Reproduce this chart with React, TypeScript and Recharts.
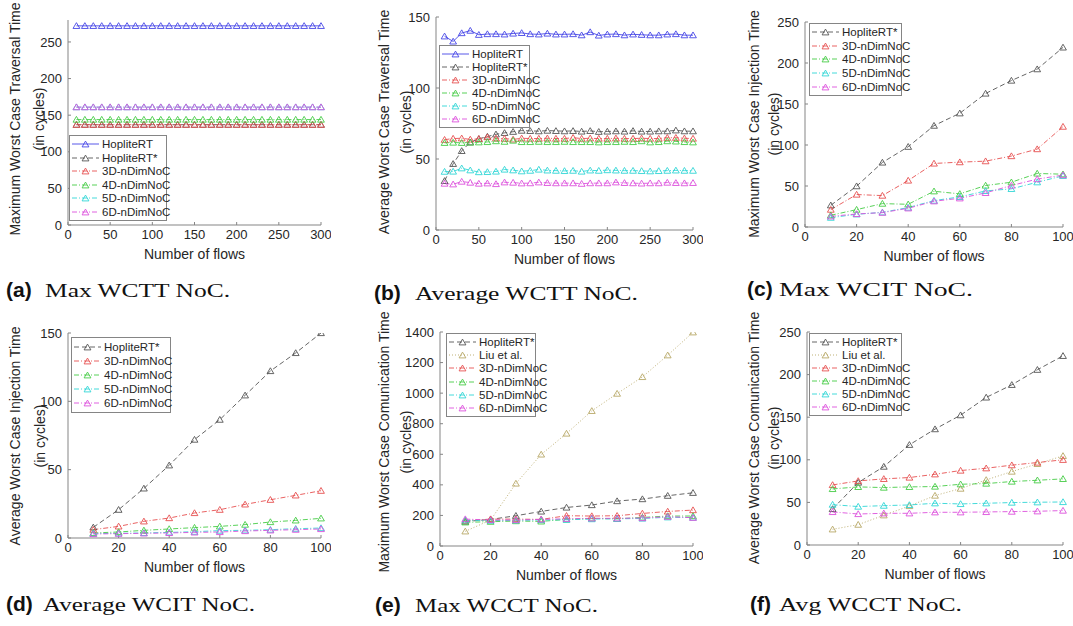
import React from 'react';
import { LineChart, Line, XAxis, YAxis, Legend } from 'recharts';

// x values (number of flows)
const FLOWS_300 = [10, 20, 30, 40, 50, 60, 70, 80, 90, 100, 110, 120, 130, 140, 150, 160, 170, 180, 190, 200, 210, 220, 230, 240, 250, 260, 270, 280, 290, 300];
const FLOWS_100 = [10, 20, 30, 40, 50, 60, 70, 80, 90, 100];
const X_TICKS_300 = [0, 50, 100, 150, 200, 250, 300];
const X_TICKS_100 = [0, 20, 40, 60, 80, 100];

// (a) Max WCTT
const A_HOPLITE = [272, 272, 272, 272, 272, 272, 272, 272, 272, 272, 272, 272, 272, 272, 272, 272, 272, 272, 272, 272, 272, 272, 272, 272, 272, 272, 272, 272, 272, 272];
const A_HOPLITE_STAR = [137, 137, 137, 137, 137, 137, 137, 137, 137, 137, 137, 137, 137, 137, 137, 137, 137, 137, 137, 137, 137, 137, 137, 137, 137, 137, 137, 137, 137, 137];
const A_3D = [137, 137, 137, 137, 137, 137, 137, 137, 137, 137, 137, 137, 137, 137, 137, 137, 137, 137, 137, 137, 137, 137, 137, 137, 137, 137, 137, 137, 137, 137];
const A_4D = [144, 144, 144, 144, 144, 144, 144, 144, 144, 144, 144, 144, 144, 144, 144, 144, 144, 144, 144, 144, 144, 144, 144, 144, 144, 144, 144, 144, 144, 144];
const A_5D = [161, 161, 161, 161, 161, 161, 161, 161, 161, 161, 161, 161, 161, 161, 161, 161, 161, 161, 161, 161, 161, 161, 161, 161, 161, 161, 161, 161, 161, 161];
const A_6D = [161, 161, 161, 161, 161, 161, 161, 161, 161, 161, 161, 161, 161, 161, 161, 161, 161, 161, 161, 161, 161, 161, 161, 161, 161, 161, 161, 161, 161, 161];

// (b) Average WCTT
const B_HOPLITE = [136.4, 132.8, 138.7, 140.4, 137.5, 138.0, 138.0, 137.8, 138.4, 138.8, 138.0, 137.8, 138.4, 137.8, 137.8, 138.0, 137.2, 139.4, 137.0, 137.8, 138.0, 137.2, 137.8, 137.5, 137.2, 137.2, 137.8, 138.0, 137.2, 137.2];
const B_HOPLITE_STAR = [34.6, 46.6, 55.7, 61.8, 64.2, 65.8, 67.4, 68.4, 69.2, 70.0, 69.8, 69.6, 70.0, 69.8, 69.6, 69.8, 69.4, 69.8, 69.2, 69.4, 69.6, 69.4, 69.8, 69.4, 69.4, 69.6, 69.6, 70.2, 69.6, 69.6];
const B_3D = [63.6, 64.4, 64.6, 63.8, 64.2, 65.4, 64.6, 64.4, 63.8, 64.6, 64.4, 64.4, 64.6, 64.4, 64.4, 65.0, 64.4, 64.6, 64.4, 64.4, 64.6, 64.4, 64.4, 64.6, 64.4, 64.4, 65.0, 65.0, 64.6, 64.4];
const B_4D = [61.4, 61.6, 61.4, 61.6, 61.8, 62.0, 62.6, 62.2, 63.0, 62.0, 62.0, 62.2, 62.0, 62.0, 62.2, 62.0, 62.0, 62.0, 61.8, 62.0, 62.0, 62.2, 62.0, 62.6, 61.8, 62.0, 62.6, 62.4, 62.0, 61.8];
const B_5D = [41.1, 41.2, 43.5, 42.1, 40.8, 40.9, 41.2, 42.6, 42.1, 41.4, 41.8, 42.6, 42.0, 41.8, 41.6, 41.8, 41.2, 42.0, 41.8, 42.2, 42.0, 41.8, 41.8, 41.6, 41.4, 41.6, 41.8, 42.0, 41.8, 41.8];
const B_6D = [32.7, 32.2, 34.1, 33.4, 32.7, 32.9, 32.4, 33.6, 33.4, 32.9, 33.0, 33.6, 33.2, 33.0, 33.0, 33.0, 32.6, 33.0, 33.0, 33.0, 33.6, 33.2, 33.0, 32.8, 33.0, 33.0, 33.4, 33.2, 33.0, 33.2];

// (c) Max WCIT
const C_HOPLITE_STAR = [26.5, 49.8, 78.7, 97.9, 123.6, 138.7, 162.8, 178.6, 192.5, 219];
const C_3D = [21.2, 39.6, 38.3, 56.7, 77.5, 79.1, 80.3, 86.5, 95, 122.4];
const C_4D = [14.3, 21.2, 28.5, 27.7, 43.6, 40.4, 50.6, 54.6, 65.3, 64.4];
const C_5D = [11.4, 15.5, 17.9, 23.7, 32.2, 36.7, 44, 46.5, 54.6, 62.4];
const C_6D = [13, 15.9, 17.5, 22.8, 31.4, 35, 41.6, 50.6, 58.4, 63.3];

// (d) Average WCIT
const D_HOPLITE_STAR = [7.8, 20.7, 36.3, 53.2, 72, 86.6, 104.4, 122.2, 135.4, 150];
const D_3D = [6.1, 8.5, 12.2, 14.6, 18.3, 20.7, 24.6, 28, 31.2, 34.6];
const D_4D = [3.7, 4.4, 5.6, 6.6, 7.6, 8.5, 9.8, 11.7, 12.9, 14.4];
const D_5D = [3.2, 3.4, 3.7, 4.1, 4.6, 5.4, 5.6, 6.1, 6.8, 7.3];
const D_6D = [2.9, 3.2, 3.4, 3.7, 4.1, 4.4, 5.1, 5.6, 6.1, 6.6];

// (e) Max WCCT
const E_HOPLITE_STAR = [160, 174, 198, 226, 252, 268, 294, 307, 329, 348];
const E_LIU = [96, 170, 409, 599, 736, 884, 997, 1106, 1248, 1398];
const E_3D = [165, 176, 176, 174, 198, 196, 198, 213, 226, 235];
const E_4D = [155, 159, 163, 161, 174, 181, 178, 187, 196, 196];
const E_5D = [168, 166, 168, 170, 172, 176, 178, 180, 188, 186];
const E_6D = [176, 170, 170, 174, 178, 181, 181, 183, 192, 185];

// (f) Avg WCCT
const F_HOPLITE_STAR = [42.3, 73.3, 92, 117.6, 136, 152.4, 173.2, 188, 205.7, 222];
const F_LIU = [18.4, 23.9, 34.9, 45.8, 58, 66.2, 76.4, 86.2, 95.2, 104.6];
const F_3D = [70.5, 75.2, 77.6, 79.2, 83, 87.4, 90.1, 93.7, 96.8, 100];
const F_4D = [65.8, 68.2, 67.4, 68.2, 68.6, 71.3, 72.1, 74.5, 76, 77.6];
const F_5D = [47.4, 45.1, 46.2, 47, 49, 48.2, 49, 49.8, 50.2, 50.5];
const F_6D = [38.8, 36.4, 37.2, 37.2, 38.4, 38.4, 38.8, 39.2, 39.6, 40.4];

const FONT = '"Liberation Sans", Arial, sans-serif';
const SERIF = '"Liberation Serif", "Times New Roman", serif';
const AXIS = '#858585';
const TXT = '#262626';

const STYLES: Record<string, { name: string; color: string; dash?: string }> = {
  hop: { name: 'HopliteRT', color: '#4646e6' },
  hopStar: { name: 'HopliteRT*', color: '#555555', dash: '5 3' },
  liu: { name: 'Liu et al.', color: '#b8a868', dash: '1 2' },
  d3: { name: '3D-nDimNoC', color: '#e65050', dash: '5 2 1 2' },
  d4: { name: '4D-nDimNoC', color: '#46cc46', dash: '5 2 1 2' },
  d5: { name: '5D-nDimNoC', color: '#30d6d6', dash: '5 2 1 2' },
  d6: { name: '6D-nDimNoC', color: '#dc50dc', dash: '5 2 1 2' },
};

type Series = { key: string; values: number[] };
type Box = { x: number; y: number; w: number; h: number };
type PanelDef = {
  flows: number[];
  series: Series[];
  plot: Box;
  xMax: number;
  xTicks: number[];
  yMax: number;
  yTicks: number[];
  yLabel: string;
  labelX: [number, number];
  labelCY: number;
  legend: Box;
  tag: string;
  text: string;
  tagX: number;
  textX: number;
  textEnd: number;
  baseline: number;
};

const tri = (cx: number, cy: number) =>
  `M${cx},${cy - 3.2} L${cx + 3.4},${cy + 2.6} L${cx - 3.4},${cy + 2.6} Z`;

const makeDot = (color: string) => (p: any) => {
  if (p.cx == null || p.cy == null) return <g key={`e${p.index}`} />;
  return <path key={`t${p.index}`} d={tri(p.cx, p.cy)} fill="none" stroke={color} strokeWidth={0.9} />;
};

const PAD_L = 50;
const PAD_T = 10;
const PAD_R = 10;
const PAD_B = 30;

function LegendBox({ series, box }: { series: Series[]; box: Box }) {
  return (
    <div
      style={{
        width: box.w,
        height: box.h,
        boxSizing: 'border-box',
        border: `1px solid ${AXIS}`,
        background: '#fff',
        display: 'flex',
        flexDirection: 'column',
        justifyContent: 'space-evenly',
        padding: '1px 0',
      }}
    >
      {series.map((s) => {
        const st = STYLES[s.key];
        return (
          <div key={s.key} style={{ display: 'flex', alignItems: 'center', height: 13 }}>
            <svg width={31} height={12} style={{ flexShrink: 0 }}>
              <line x1={2} x2={29} y1={6} y2={6} stroke={st.color} strokeWidth={0.9} strokeDasharray={st.dash} />
              <path d={tri(15.5, 6.3)} fill="none" stroke={st.color} strokeWidth={0.9} />
            </svg>
            <span style={{ fontFamily: FONT, fontSize: 11.5, color: TXT, whiteSpace: 'nowrap', marginLeft: 1 }}>{st.name}</span>
          </div>
        );
      })}
    </div>
  );
}

function Panel({ d }: { d: PanelDef }) {
  const rows = d.flows.map((x, i) => {
    const r: Record<string, number> = { x };
    d.series.forEach((s) => (r[s.key] = s.values[i]));
    return r;
  });
  const left = d.plot.x - PAD_L;
  const top = d.plot.y - PAD_T;
  const tick = { fill: TXT, fontSize: 13, fontFamily: FONT };
  return (
    <div style={{ position: 'absolute', left, top }}>
      <LineChart
        width={d.plot.w + PAD_L + PAD_R}
        height={d.plot.h + PAD_T + PAD_B}
        data={rows}
        margin={{ top: PAD_T, right: PAD_R, left: 0, bottom: 0 }}
      >
        <XAxis
          dataKey="x"
          type="number"
          domain={[0, d.xMax]}
          ticks={d.xTicks}
          interval={0}
          height={PAD_B}
          tickSize={-3}
          tickMargin={8}
          tick={tick}
          stroke={AXIS}
        />
        <XAxis
          xAxisId="top"
          orientation="top"
          dataKey="x"
          type="number"
          domain={[0, d.xMax]}
          ticks={d.xTicks}
          interval={0}
          height={0}
          tickSize={-3}
          tickFormatter={() => ''}
          stroke={AXIS}
        />
        <YAxis
          type="number"
          domain={[0, d.yMax]}
          ticks={d.yTicks}
          interval={0}
          width={PAD_L}
          tickSize={-3}
          tickMargin={9}
          tick={tick}
          stroke={AXIS}
          allowDataOverflow
        />
        <YAxis
          yAxisId="right"
          orientation="right"
          type="number"
          domain={[0, d.yMax]}
          ticks={d.yTicks}
          interval={0}
          width={0}
          tickSize={-3}
          tickFormatter={() => ''}
          stroke={AXIS}
        />
        <Legend
          layout="vertical"
          align="center"
          verticalAlign="middle"
          wrapperStyle={{ left: d.legend.x - left, top: d.legend.y - top, width: d.legend.w, height: d.legend.h }}
          content={() => <LegendBox series={d.series} box={d.legend} />}
        />
        {d.series.map((s) => {
          const st = STYLES[s.key];
          return (
            <Line
              key={s.key}
              dataKey={s.key}
              name={st.name}
              stroke={st.color}
              strokeWidth={0.9}
              strokeDasharray={st.dash}
              dot={makeDot(st.color)}
              activeDot={false}
              isAnimationActive={false}
            />
          );
        })}
      </LineChart>
    </div>
  );
}

const PANELS: PanelDef[] = [
  {
    flows: FLOWS_300,
    series: [
      { key: 'hop', values: A_HOPLITE },
      { key: 'hopStar', values: A_HOPLITE_STAR },
      { key: 'd3', values: A_3D },
      { key: 'd4', values: A_4D },
      { key: 'd5', values: A_5D },
      { key: 'd6', values: A_6D },
    ],
    plot: { x: 68, y: 20, w: 253, h: 205 },
    xMax: 300,
    xTicks: X_TICKS_300,
    yMax: 280,
    yTicks: [0, 50, 100, 150, 200, 250],
    yLabel: 'Maximum Worst Case Traversal Time',
    labelX: [15, 39],
    labelCY: 119,
    legend: { x: 69, y: 135, w: 98, h: 86 },
    tag: '(a)',
    text: 'Max WCTT NoC.',
    tagX: 6,
    textX: 45,
    textEnd: 230,
    baseline: 297,
  },
  {
    flows: FLOWS_300,
    series: [
      { key: 'hop', values: B_HOPLITE },
      { key: 'hopStar', values: B_HOPLITE_STAR },
      { key: 'd3', values: B_3D },
      { key: 'd4', values: B_4D },
      { key: 'd5', values: B_5D },
      { key: 'd6', values: B_6D },
    ],
    plot: { x: 436, y: 17, w: 257, h: 213 },
    xMax: 300,
    xTicks: X_TICKS_300,
    yMax: 150,
    yTicks: [0, 50, 100, 150],
    yLabel: 'Average Worst Case Traversal Time',
    labelX: [384, 406],
    labelCY: 122,
    legend: { x: 439, y: 45, w: 91, h: 83 },
    tag: '(b)',
    text: 'Average WCTT NoC.',
    tagX: 374,
    textX: 415,
    textEnd: 638,
    baseline: 300,
  },
  {
    flows: FLOWS_100,
    series: [
      { key: 'hopStar', values: C_HOPLITE_STAR },
      { key: 'd3', values: C_3D },
      { key: 'd4', values: C_4D },
      { key: 'd5', values: C_5D },
      { key: 'd6', values: C_6D },
    ],
    plot: { x: 805, y: 22, w: 258, h: 205 },
    xMax: 100,
    xTicks: X_TICKS_100,
    yMax: 250,
    yTicks: [0, 50, 100, 150, 200, 250],
    yLabel: 'Maximum Worst Case Injection Time',
    labelX: [754, 774],
    labelCY: 124,
    legend: { x: 809, y: 23, w: 93, h: 73 },
    tag: '(c)',
    text: 'Max WCIT NoC.',
    tagX: 747,
    textX: 779,
    textEnd: 973,
    baseline: 296,
  },
  {
    flows: FLOWS_100,
    series: [
      { key: 'hopStar', values: D_HOPLITE_STAR },
      { key: 'd3', values: D_3D },
      { key: 'd4', values: D_4D },
      { key: 'd5', values: D_5D },
      { key: 'd6', values: D_6D },
    ],
    plot: { x: 68, y: 333, w: 253, h: 205 },
    xMax: 100,
    xTicks: X_TICKS_100,
    yMax: 150,
    yTicks: [0, 50, 100, 150],
    yLabel: 'Average Worst Case Injection Time',
    labelX: [15, 40],
    labelCY: 436,
    legend: { x: 71, y: 337, w: 100, h: 76 },
    tag: '(d)',
    text: 'Average WCIT NoC.',
    tagX: 6,
    textX: 43,
    textEnd: 255,
    baseline: 611,
  },
  {
    flows: FLOWS_100,
    series: [
      { key: 'hopStar', values: E_HOPLITE_STAR },
      { key: 'liu', values: E_LIU },
      { key: 'd3', values: E_3D },
      { key: 'd4', values: E_4D },
      { key: 'd5', values: E_5D },
      { key: 'd6', values: E_6D },
    ],
    plot: { x: 440, y: 332, w: 253, h: 214 },
    xMax: 100,
    xTicks: X_TICKS_100,
    yMax: 1400,
    yTicks: [0, 200, 400, 600, 800, 1000, 1200, 1400],
    yLabel: 'Maximum Worst Case Comunication Time',
    labelX: [384, 406],
    labelCY: 442,
    legend: { x: 446, y: 333, w: 90, h: 84 },
    tag: '(e)',
    text: 'Max WCCT NoC.',
    tagX: 375,
    textX: 415,
    textEnd: 598,
    baseline: 612,
  },
  {
    flows: FLOWS_100,
    series: [
      { key: 'hopStar', values: F_HOPLITE_STAR },
      { key: 'liu', values: F_LIU },
      { key: 'd3', values: F_3D },
      { key: 'd4', values: F_4D },
      { key: 'd5', values: F_5D },
      { key: 'd6', values: F_6D },
    ],
    plot: { x: 807, y: 332, w: 256, h: 213 },
    xMax: 100,
    xTicks: X_TICKS_100,
    yMax: 250,
    yTicks: [0, 50, 100, 150, 200, 250],
    yLabel: 'Average Worst Case Comunication Time',
    labelX: [754, 774],
    labelCY: 438,
    legend: { x: 809, y: 333, w: 93, h: 83 },
    tag: '(f)',
    text: 'Avg WCCT NoC.',
    tagX: 750,
    textX: 779,
    textEnd: 962,
    baseline: 611,
  },
];

export default function App() {
  return (
    <div style={{ position: 'absolute', left: 0, top: 0, width: 1073, height: 626, background: '#fff', overflow: 'hidden' }}>
      {PANELS.map((p, i) => (
        <Panel key={i} d={p} />
      ))}
      <svg width={1073} height={626} style={{ position: 'absolute', left: 0, top: 0, pointerEvents: 'none' }}>
        {PANELS.map((p, i) => (
          <g key={i} fill={TXT}>
            <text
              transform={`translate(${p.labelX[0]},${p.labelCY}) rotate(-90)`}
              textAnchor="middle"
              dominantBaseline="central"
              fontFamily={FONT}
              fontSize={14}
            >
              {p.yLabel}
            </text>
            <text
              transform={`translate(${p.labelX[1]},${p.labelCY}) rotate(-90)`}
              textAnchor="middle"
              dominantBaseline="central"
              fontFamily={FONT}
              fontSize={14}
            >
              (in cycles)
            </text>
            <text
              x={p.plot.x + p.plot.w / 2}
              y={p.plot.y + p.plot.h + 29}
              textAnchor="middle"
              dominantBaseline="central"
              fontFamily={FONT}
              fontSize={14}
            >
              Number of flows
            </text>
            <text x={p.tagX} y={p.baseline} fontSize={21} fontWeight="bold" fontFamily={FONT} fill="#111">
              {p.tag}
            </text>
            <text
              x={p.textX}
              y={p.baseline}
              fontSize={19}
              fontFamily={SERIF}
              fill="#111"
              textLength={p.textEnd - p.textX}
              lengthAdjust="spacingAndGlyphs"
            >
              {p.text}
            </text>
          </g>
        ))}
      </svg>
    </div>
  );
}
